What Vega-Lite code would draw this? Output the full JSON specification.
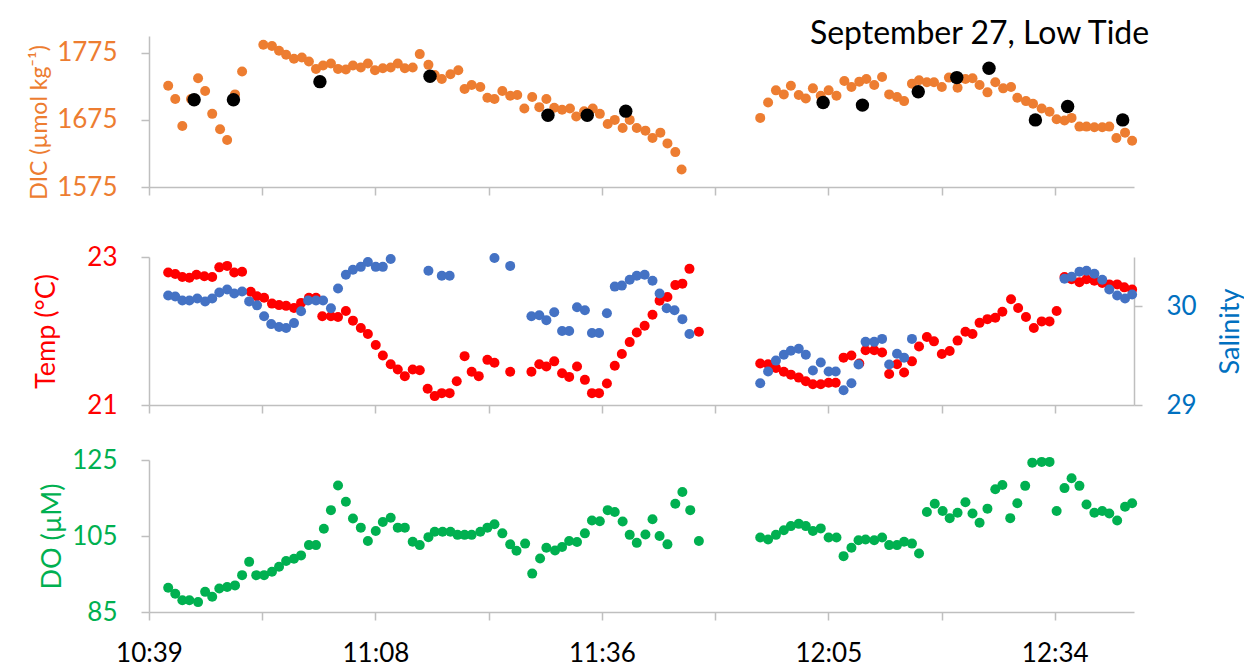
{
  "$schema": "https://vega.github.io/schema/vega-lite/v6.json",
  "background": "white",
  "padding": {"left": 28, "top": 18, "right": 0, "bottom": 0},
  "title": {"text": "September 27, Low Tide", "anchor": "end", "font": "Lato", "fontSize": 32, "fontWeight": "normal", "color": "#000000", "dx": -94, "offset": -15},
  "datasets": {
    "dic": [
      {"t":641.8,"v":1726},{"t":642.7,"v":1706},{"t":643.6,"v":1666},{"t":644.7,"v":1706},{"t":645.6,"v":1737},{"t":646.5,"v":1718},{"t":647.4,"v":1684},{"t":648.4,"v":1661},{"t":649.3,"v":1645},{"t":650.3,"v":1713},{"t":651.2,"v":1747},
      {"t":653.9,"v":1787},{"t":655.0,"v":1785},{"t":655.9,"v":1778},{"t":656.8,"v":1772},{"t":657.8,"v":1766},{"t":658.8,"v":1768},{"t":659.7,"v":1762},{"t":660.6,"v":1751},{"t":661.5,"v":1756},{"t":662.5,"v":1759},{"t":663.4,"v":1751},{"t":664.4,"v":1750},{"t":665.3,"v":1756},{"t":666.3,"v":1753},{"t":667.2,"v":1759},{"t":668.1,"v":1749},{"t":669.1,"v":1752},{"t":670.1,"v":1753},{"t":671.0,"v":1759},{"t":671.9,"v":1752},{"t":672.9,"v":1753},
      {"t":673.8,"v":1773},{"t":674.9,"v":1757},{"t":675.7,"v":1742},{"t":676.6,"v":1736},{"t":677.7,"v":1743},{"t":678.7,"v":1749},{"t":679.5,"v":1721},{"t":680.4,"v":1727},{"t":681.5,"v":1724},{"t":682.4,"v":1708},{"t":683.3,"v":1706},{"t":684.3,"v":1718},{"t":685.3,"v":1711},{"t":686.2,"v":1712},{"t":687.1,"v":1692},{"t":688.1,"v":1709},{"t":689.0,"v":1694},{"t":689.9,"v":1706},{"t":690.9,"v":1693},{"t":691.9,"v":1690},{"t":692.9,"v":1692},{"t":693.7,"v":1680},{"t":694.7,"v":1688},{"t":695.8,"v":1692},{"t":696.7,"v":1684},{"t":697.7,"v":1669},{"t":698.6,"v":1675},{"t":699.6,"v":1663},{"t":700.5,"v":1675},{"t":701.4,"v":1663},{"t":702.5,"v":1659},{"t":703.4,"v":1648},{"t":704.4,"v":1656},{"t":705.3,"v":1640},{"t":706.3,"v":1627},{"t":707.1,"v":1601},
      {"t":717.1,"v":1678},{"t":718.1,"v":1701},{"t":719.1,"v":1719},{"t":720.1,"v":1713},{"t":721.0,"v":1726},{"t":722.0,"v":1712},{"t":722.9,"v":1707},{"t":723.8,"v":1722},{"t":724.8,"v":1711},{"t":725.8,"v":1719},{"t":726.8,"v":1711},{"t":727.8,"v":1733},{"t":728.7,"v":1724},{"t":729.7,"v":1732},{"t":730.6,"v":1736},{"t":731.6,"v":1727},{"t":732.6,"v":1739},{"t":733.5,"v":1713},{"t":734.5,"v":1709},{"t":735.4,"v":1703},{"t":736.4,"v":1729},{"t":737.3,"v":1734},{"t":738.3,"v":1731},{"t":739.2,"v":1731},{"t":740.2,"v":1724},{"t":741.1,"v":1738},{"t":742.2,"v":1723},{"t":743.2,"v":1736},{"t":744.1,"v":1737},{"t":745.0,"v":1727},{"t":746.0,"v":1716},{"t":747.0,"v":1731},{"t":748.0,"v":1722},{"t":749.0,"v":1724},{"t":749.8,"v":1708},{"t":750.9,"v":1703},{"t":751.8,"v":1699},{"t":752.9,"v":1692},{"t":753.9,"v":1687},{"t":754.8,"v":1676},{"t":755.8,"v":1674},{"t":756.7,"v":1678},{"t":757.7,"v":1665},{"t":758.6,"v":1665},{"t":759.6,"v":1664},{"t":760.6,"v":1664},{"t":761.5,"v":1665},{"t":762.4,"v":1648},{"t":763.5,"v":1656},{"t":764.4,"v":1644}
    ],
    "lab": [
      {"t":645.1,"v":1705},{"t":650.1,"v":1705},{"t":661.1,"v":1732},{"t":675.1,"v":1740},{"t":690.1,"v":1682},{"t":695.1,"v":1682},{"t":700.0,"v":1688},{"t":725.1,"v":1701},{"t":730.1,"v":1697},{"t":737.2,"v":1717},{"t":742.1,"v":1738},{"t":746.2,"v":1752},{"t":752.1,"v":1675},{"t":756.2,"v":1695},{"t":763.2,"v":1675}
    ],
    "temp": [
      {"t":641.8,"v":22.79},{"t":642.7,"v":22.77},{"t":643.6,"v":22.73},{"t":644.5,"v":22.72},{"t":645.4,"v":22.76},{"t":646.4,"v":22.74},{"t":647.4,"v":22.73},{"t":648.3,"v":22.86},{"t":649.3,"v":22.88},{"t":650.2,"v":22.79},{"t":651.2,"v":22.80},{"t":652.3,"v":22.53},{"t":653.1,"v":22.47},{"t":654.0,"v":22.45},{"t":655.0,"v":22.37},{"t":655.9,"v":22.35},{"t":656.8,"v":22.34},{"t":657.8,"v":22.31},{"t":658.7,"v":22.38},{"t":659.7,"v":22.45},{"t":660.6,"v":22.45},{"t":661.4,"v":22.20},{"t":662.5,"v":22.20},{"t":663.4,"v":22.19},{"t":664.4,"v":22.27},{"t":665.3,"v":22.14},{"t":666.3,"v":22.04},{"t":667.2,"v":21.96},{"t":668.2,"v":21.81},{"t":669.1,"v":21.67},{"t":670.1,"v":21.55},{"t":671.0,"v":21.48},{"t":671.9,"v":21.39},{"t":672.9,"v":21.48},{"t":673.8,"v":21.47},{"t":674.8,"v":21.22},{"t":675.7,"v":21.12},{"t":676.6,"v":21.16},{"t":677.6,"v":21.16},{"t":678.5,"v":21.32},{"t":679.5,"v":21.66},{"t":680.4,"v":21.45},{"t":681.3,"v":21.39},{"t":682.4,"v":21.61},{"t":683.3,"v":21.57},{"t":685.3,"v":21.45},{"t":688.0,"v":21.45},{"t":689.0,"v":21.55},{"t":689.9,"v":21.52},{"t":690.9,"v":21.59},{"t":691.9,"v":21.43},{"t":692.8,"v":21.38},{"t":693.8,"v":21.52},{"t":694.8,"v":21.34},{"t":695.7,"v":21.16},{"t":696.6,"v":21.16},{"t":697.6,"v":21.29},{"t":698.6,"v":21.53},{"t":699.5,"v":21.69},{"t":700.5,"v":21.85},{"t":701.4,"v":21.98},{"t":702.4,"v":22.07},{"t":703.4,"v":22.22},{"t":704.3,"v":22.41},{"t":705.3,"v":22.46},{"t":706.3,"v":22.62},{"t":707.2,"v":22.64},{"t":708.1,"v":22.84},{"t":709.3,"v":21.99},
      {"t":717.1,"v":21.56},{"t":718.1,"v":21.55},{"t":719.1,"v":21.50},{"t":720.1,"v":21.45},{"t":721.0,"v":21.41},{"t":722.0,"v":21.37},{"t":722.9,"v":21.32},{"t":723.8,"v":21.28},{"t":724.8,"v":21.28},{"t":725.8,"v":21.30},{"t":726.7,"v":21.30},{"t":727.7,"v":21.64},{"t":728.7,"v":21.67},{"t":729.7,"v":21.56},{"t":730.5,"v":21.74},{"t":731.6,"v":21.74},{"t":732.6,"v":21.71},{"t":733.5,"v":21.42},{"t":734.5,"v":21.55},{"t":735.4,"v":21.44},{"t":736.4,"v":21.59},{"t":737.3,"v":21.79},{"t":738.3,"v":21.92},{"t":739.2,"v":21.86},{"t":740.2,"v":21.69},{"t":741.2,"v":21.73},{"t":742.2,"v":21.87},{"t":743.2,"v":21.99},{"t":744.1,"v":21.96},{"t":745.0,"v":22.11},{"t":746.0,"v":22.16},{"t":747.0,"v":22.18},{"t":747.9,"v":22.26},{"t":749.0,"v":22.43},{"t":749.9,"v":22.31},{"t":750.9,"v":22.19},{"t":751.9,"v":22.04},{"t":752.9,"v":22.13},{"t":753.9,"v":22.13},{"t":754.8,"v":22.27},{"t":755.8,"v":22.73},{"t":756.7,"v":22.70},{"t":757.7,"v":22.66},{"t":758.6,"v":22.70},{"t":759.6,"v":22.68},{"t":760.6,"v":22.65},{"t":761.5,"v":22.63},{"t":762.5,"v":22.63},{"t":763.4,"v":22.59},{"t":764.4,"v":22.56}
    ],
    "sal": [
      {"t":641.8,"v":30.11},{"t":642.7,"v":30.10},{"t":643.6,"v":30.06},{"t":644.5,"v":30.06},{"t":645.5,"v":30.08},{"t":646.5,"v":30.05},{"t":647.4,"v":30.08},{"t":648.3,"v":30.14},{"t":649.3,"v":30.17},{"t":650.2,"v":30.13},{"t":651.2,"v":30.15},{"t":652.1,"v":30.05},{"t":653.1,"v":30.01},{"t":654.0,"v":29.90},{"t":654.9,"v":29.82},{"t":655.9,"v":29.79},{"t":656.8,"v":29.78},{"t":657.8,"v":29.83},{"t":658.7,"v":29.95},{"t":659.6,"v":30.06},{"t":660.6,"v":30.06},{"t":661.5,"v":30.06},{"t":662.5,"v":29.98},{"t":663.4,"v":30.18},{"t":664.4,"v":30.32},{"t":665.3,"v":30.37},{"t":666.3,"v":30.40},{"t":667.2,"v":30.45},{"t":668.2,"v":30.40},{"t":669.1,"v":30.40},{"t":670.1,"v":30.48},
      {"t":674.9,"v":30.36},{"t":676.6,"v":30.31},{"t":677.6,"v":30.31},{"t":683.3,"v":30.49},{"t":685.3,"v":30.41},{"t":688.0,"v":29.90},{"t":689.0,"v":29.91},{"t":689.9,"v":29.86},{"t":690.9,"v":29.94},{"t":691.9,"v":29.75},{"t":692.8,"v":29.75},{"t":693.8,"v":29.99},{"t":694.8,"v":29.96},{"t":695.7,"v":29.73},{"t":696.6,"v":29.73},{"t":697.6,"v":29.93},{"t":698.6,"v":30.20},{"t":699.5,"v":30.21},{"t":700.5,"v":30.27},{"t":701.4,"v":30.31},{"t":702.4,"v":30.32},{"t":703.4,"v":30.26},{"t":704.3,"v":30.13},{"t":705.2,"v":29.98},{"t":706.2,"v":29.96},{"t":707.2,"v":29.87},{"t":708.1,"v":29.72},
      {"t":717.1,"v":29.22},{"t":718.1,"v":29.34},{"t":719.1,"v":29.45},{"t":720.1,"v":29.51},{"t":721.0,"v":29.55},{"t":722.0,"v":29.57},{"t":722.9,"v":29.51},{"t":723.8,"v":29.35},{"t":724.8,"v":29.43},{"t":725.8,"v":29.34},{"t":726.7,"v":29.34},{"t":727.7,"v":29.15},{"t":728.7,"v":29.22},{"t":729.6,"v":29.41},{"t":730.5,"v":29.64},{"t":731.6,"v":29.64},{"t":732.6,"v":29.67},{"t":733.5,"v":29.41},{"t":734.5,"v":29.52},{"t":735.4,"v":29.48},{"t":736.4,"v":29.67},
      {"t":755.8,"v":30.28},{"t":756.7,"v":30.30},{"t":757.7,"v":30.35},{"t":758.6,"v":30.36},{"t":759.6,"v":30.33},{"t":760.6,"v":30.27},{"t":761.5,"v":30.17},{"t":762.5,"v":30.11},{"t":763.5,"v":30.08},{"t":764.4,"v":30.12}
    ],
    "do": [
      {"t":641.8,"v":91.4},{"t":642.7,"v":89.8},{"t":643.6,"v":88.1},{"t":644.5,"v":88.1},{"t":645.6,"v":87.6},{"t":646.5,"v":90.3},{"t":647.4,"v":89.0},{"t":648.3,"v":91.2},{"t":649.3,"v":91.6},{"t":650.3,"v":92.0},{"t":651.2,"v":94.7},{"t":652.1,"v":98.2},{"t":653.0,"v":94.7},{"t":654.0,"v":94.7},{"t":655.0,"v":95.6},{"t":655.9,"v":96.9},{"t":656.8,"v":98.4},{"t":657.8,"v":99.0},{"t":658.7,"v":99.9},{"t":659.7,"v":102.6},{"t":660.6,"v":102.6},{"t":661.6,"v":106.9},{"t":662.5,"v":111.8},{"t":663.4,"v":118.3},{"t":664.4,"v":114.0},{"t":665.3,"v":109.6},{"t":666.3,"v":107.2},{"t":667.2,"v":103.7},{"t":668.2,"v":106.3},{"t":669.1,"v":108.7},{"t":670.1,"v":109.8},{"t":671.0,"v":107.2},{"t":671.9,"v":107.2},{"t":672.9,"v":103.5},{"t":673.8,"v":102.6},{"t":674.9,"v":104.7},{"t":675.7,"v":106.1},{"t":676.7,"v":106.1},{"t":677.7,"v":106.1},{"t":678.6,"v":105.3},{"t":679.5,"v":105.3},{"t":680.4,"v":105.3},{"t":681.5,"v":106.1},{"t":682.4,"v":107.2},{"t":683.3,"v":108.1},{"t":684.3,"v":105.7},{"t":685.3,"v":102.8},{"t":686.1,"v":101.1},{"t":687.2,"v":103.0},{"t":688.1,"v":95.1},{"t":689.1,"v":99.1},{"t":689.9,"v":101.9},{"t":691.0,"v":101.2},{"t":691.9,"v":102.1},{"t":692.8,"v":103.7},{"t":693.8,"v":103.4},{"t":694.8,"v":105.7},{"t":695.7,"v":109.1},{"t":696.7,"v":108.9},{"t":697.7,"v":111.8},{"t":698.6,"v":111.3},{"t":699.6,"v":108.8},{"t":700.5,"v":105.3},{"t":701.4,"v":103.2},{"t":702.5,"v":105.4},{"t":703.4,"v":109.4},{"t":704.3,"v":105.0},{"t":705.3,"v":102.8},{"t":706.3,"v":113.5},{"t":707.2,"v":116.6},{"t":708.2,"v":111.8},{"t":709.3,"v":103.7},
      {"t":717.1,"v":104.6},{"t":718.1,"v":104.1},{"t":719.1,"v":105.3},{"t":720.1,"v":106.5},{"t":721.0,"v":107.6},{"t":722.0,"v":108.2},{"t":722.9,"v":107.6},{"t":723.8,"v":106.3},{"t":724.8,"v":107.0},{"t":725.8,"v":104.6},{"t":726.8,"v":104.6},{"t":727.7,"v":99.7},{"t":728.7,"v":101.9},{"t":729.6,"v":103.9},{"t":730.5,"v":104.1},{"t":731.6,"v":103.9},{"t":732.6,"v":104.6},{"t":733.5,"v":102.6},{"t":734.5,"v":102.6},{"t":735.4,"v":103.5},{"t":736.4,"v":103.0},{"t":737.3,"v":100.4},{"t":738.3,"v":111.3},{"t":739.3,"v":113.5},{"t":740.3,"v":111.6},{"t":741.2,"v":109.7},{"t":742.2,"v":111.1},{"t":743.2,"v":113.9},{"t":744.1,"v":110.9},{"t":745.0,"v":108.5},{"t":746.0,"v":112.2},{"t":747.0,"v":117.3},{"t":747.9,"v":118.4},{"t":748.9,"v":109.7},{"t":749.8,"v":113.6},{"t":750.8,"v":118.2},{"t":751.7,"v":124.3},{"t":752.9,"v":124.5},{"t":753.9,"v":124.5},{"t":754.8,"v":111.6},{"t":755.8,"v":117.6},{"t":756.7,"v":120.2},{"t":757.7,"v":118.2},{"t":758.6,"v":113.3},{"t":759.6,"v":111.1},{"t":760.6,"v":111.6},{"t":761.5,"v":110.9},{"t":762.5,"v":109.1},{"t":763.5,"v":112.7},{"t":764.4,"v":113.6}
    ]
  },
  "spacing": 70,
  "bounds": "flush",
  "vconcat": [
    {
      "width": 985,
      "height": 151,
      "layer": [
        {
          "data": {"name": "dic"},
          "mark": {"type": "circle", "size": 100, "opacity": 1, "color": "#ED7D31"},
          "encoding": {
            "x": {"field": "t", "type": "quantitative", "scale": {"domain": [639.36, 764.64], "nice": false, "zero": false}, "axis": {"values": [639.36, 653.76, 668.16, 682.56, 696.96, 711.36, 725.76, 740.16, 754.56], "labels": false, "title": null}},
            "y": {"field": "v", "type": "quantitative", "scale": {"domain": [1575, 1800], "nice": false, "zero": false}, "axis": {"values": [1575, 1675, 1775], "format": "d", "title": "DIC (µmol kg⁻¹)", "titleFont": "Lato, Noto Sans", "titleFontSize": 23, "titleY": 86, "titleColor": "#ED7D31", "labelColor": "#ED7D31", "titlePadding": 5}}
          }
        },
        {
          "data": {"name": "lab"},
          "mark": {"type": "circle", "size": 180, "opacity": 1, "color": "#000000"},
          "encoding": {
            "x": {"field": "t", "type": "quantitative"},
            "y": {"field": "v", "type": "quantitative"}
          }
        }
      ]
    },
    {
      "spacing": 55,
      "bounds": "flush",
      "vconcat": [
        {
          "width": 985,
          "height": 148,
          "layer": [
            {
              "data": {"name": "temp"},
              "mark": {"type": "circle", "size": 100, "opacity": 1, "color": "#FF0000"},
              "encoding": {
                "x": {"field": "t", "type": "quantitative", "scale": {"domain": [639.36, 764.64], "nice": false, "zero": false}, "axis": {"values": [639.36, 653.76, 668.16, 682.56, 696.96, 711.36, 725.76, 740.16, 754.56], "labels": false, "title": null}},
                "y": {"field": "v", "type": "quantitative", "scale": {"domain": [21, 23], "nice": false, "zero": false}, "axis": {"values": [21, 22, 23], "format": "d", "title": "Temp (°C)", "titleColor": "#FF0000", "labelColor": "#FF0000", "titlePadding": 26}}
              }
            },
            {
              "data": {"name": "sal"},
              "mark": {"type": "circle", "size": 100, "opacity": 1, "color": "#4472C4"},
              "encoding": {
                "x": {"field": "t", "type": "quantitative"},
                "y": {"field": "v", "type": "quantitative", "scale": {"domain": [29, 30.5], "nice": false, "zero": false}, "axis": {"orient": "right", "values": [29, 30], "format": "d", "title": "Salinity", "titleColor": "#0070C0", "labelColor": "#0070C0", "titleAngle": -90, "titleBaseline": "top", "titlePadding": 21}}
              }
            }
          ],
          "resolve": {"scale": {"y": "independent"}}
        },
        {
          "width": 985,
          "height": 152,
          "data": {"name": "do"},
          "mark": {"type": "circle", "size": 100, "opacity": 1, "color": "#00B050"},
          "encoding": {
            "x": {"field": "t", "type": "quantitative", "scale": {"domain": [639.36, 764.64], "nice": false, "zero": false}, "axis": {"values": [639.36, 653.76, 668.16, 682.56, 696.96, 711.36, 725.76, 740.16, 754.56], "title": null, "labelColor": "#000000", "labelPadding": 20, "labelExpr": "(round((datum.value - 639.36) / 14.4) % 2 == 0) ? (floor(datum.value / 60) + ':' + (floor(datum.value % 60) < 10 ? '0' : '') + floor(datum.value % 60)) : ''"}},
            "y": {"field": "v", "type": "quantitative", "scale": {"domain": [85, 125], "nice": false, "zero": false}, "axis": {"values": [85, 105, 125], "format": "d", "title": "DO (µM)", "titleColor": "#00B050", "labelColor": "#00B050", "titlePadding": 5}}
          }
        }
      ]
    }
  ],
  "config": {
    "view": {"stroke": null},
    "font": "Lato",
    "axis": {"grid": false, "domainColor": "#BFBFBF", "domainWidth": 1.5, "tickColor": "#BFBFBF", "tickWidth": 1.5, "tickSize": 8, "labelFont": "Lato", "labelFontSize": 26, "titleFont": "Lato", "titleFontSize": 27, "titleFontWeight": "normal", "labelPadding": 24, "labelFlush": false, "labelOverlap": false}
  }
}
